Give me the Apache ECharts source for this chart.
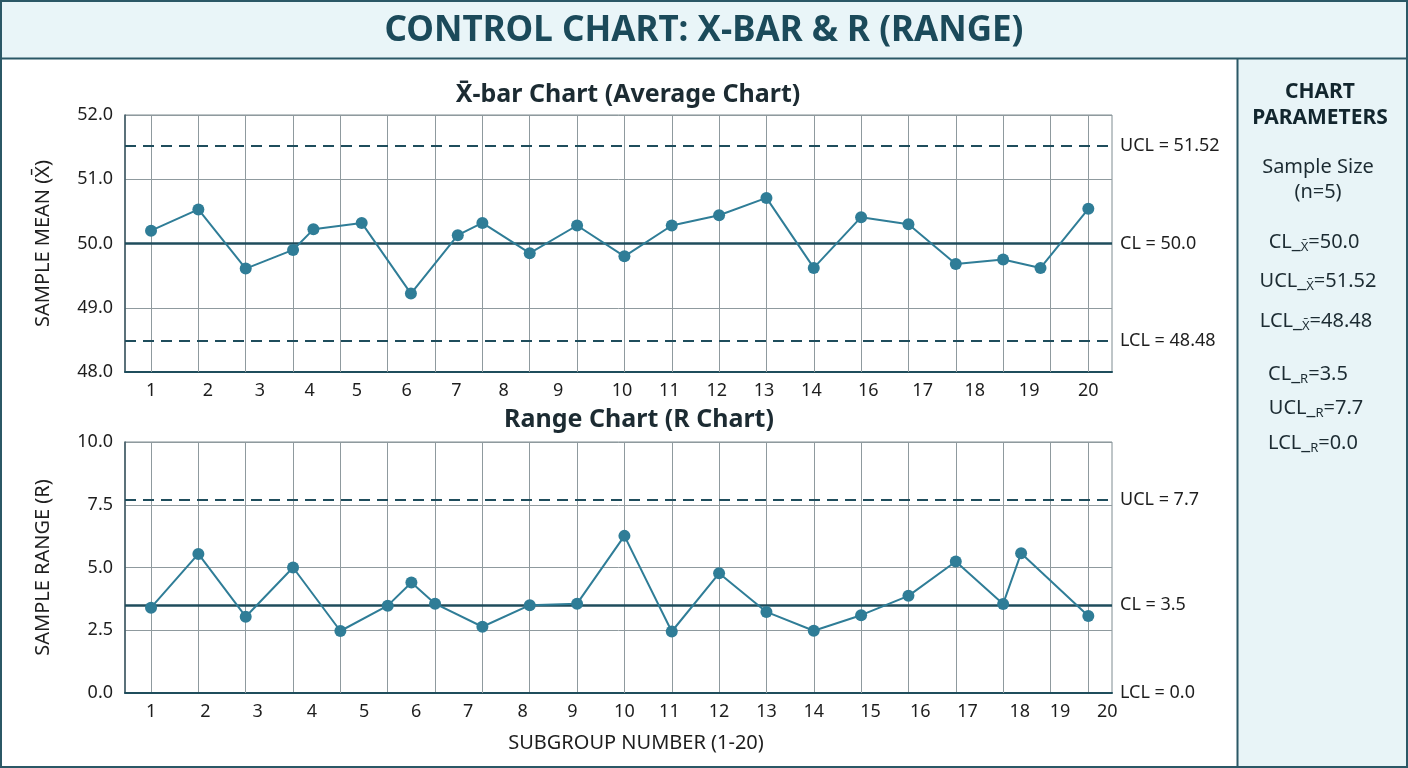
<!DOCTYPE html>
<html>
<head>
<meta charset="utf-8">
<title>Control Chart: X-bar &amp; R</title>
<script src="https://cdn.jsdelivr.net/npm/echarts@6/dist/echarts.min.js"></script>
<style>
  html, body { margin: 0; padding: 0; background: #fff; }
  #main { width: 1408px; height: 768px; }
</style>
</head>
<body>
<div id="main"></div>
<script>
// ---- data ----
// x positions are in grid columns (column line n = subgroup n)
var xbarPos  = [1, 2, 3, 4, 4.43, 5.45, 6.49, 7.48, 8, 9, 10, 11, 12, 13, 14, 15, 16, 17, 18, 19, 19.79, 20.8];
var xbarMean = [50.20, 50.53, 49.61, 49.90, 50.22, 50.32, 49.22, 50.13, 50.32, 49.85, 50.28,
                49.80, 50.28, 50.44, 50.71, 49.62, 50.41, 50.30, 49.68, 49.75, 49.62, 50.54];

var rPos   = [1, 2, 3, 4, 5, 6, 6.5, 7, 8, 9, 10, 11, 12, 13, 14, 15, 16, 17, 18, 19, 19.38, 20.8];
var rRange = [3.40, 5.54, 3.04, 5.00, 2.47, 3.48, 4.40, 3.56, 2.64, 3.50, 3.56,
              6.26, 2.45, 4.77, 3.23, 2.48, 3.10, 3.87, 5.24, 3.55, 5.57, 3.07];

var xbarLimits = [51.52, 50.0, 48.48];
var xbarLimitText = ['UCL = 51.52', 'CL = 50.0', 'LCL = 48.48'];
var rLimits = [7.7, 3.5, 0.0];
var rLimitText = ['UCL = 7.7', 'CL = 3.5', 'LCL = 0.0'];

// tick labels as they sit under each chart
var xbarTickPos  = [1, 2.2, 3.3, 4.35, 5.35, 6.4, 7.45, 8.45, 9.6, 10.95, 11.95, 12.95, 13.95, 14.95, 16.15, 17.3, 18.4, 19.55, 20.8];
var xbarTickText = ['1', '2', '3', '4', '5', '6', '7', '8', '9', '10', '11', '12', '13', '14', '16', '17', '18', '19', '20'];
var rTickPos  = [1, 2.15, 3.25, 4.4, 5.5, 6.6, 7.7, 8.85, 9.9, 11, 11.95, 13, 14, 15, 16.2, 17.25, 18.25, 19.35, 20.2, 21.2];
var rTickText = ['1', '2', '3', '4', '5', '6', '7', '8', '9', '10', '11', '12', '13', '14', '15', '16', '17', '18', '19', '20'];

var colLines = [1, 2, 3, 4, 5, 6, 7, 8, 9, 10, 11, 12, 13, 14, 15, 16, 17, 18, 19, 20, 20.8];

// ---- styling ----
var FONT = '"Noto Sans", "DejaVu Sans", sans-serif';
var DARK = '#1f4d5c';
var LINE = '#2f7d97';
var TXT = '#1e1e1e';
var X_MIN = 0.45, X_MAX = 21.3;

function zip(xs, ys) {
  var out = [];
  for (var i = 0; i < xs.length; i++) out.push([xs[i], ys[i]]);
  return out;
}

function tickFmt(pos, txt) {
  return function (v) {
    for (var i = 0; i < pos.length; i++) {
      if (Math.abs(v - pos[i]) < 0.01) return txt[i];
    }
    return '';
  };
}

function mainX(gi) {
  return {
    type: 'value', gridIndex: gi, min: X_MIN, max: X_MAX, position: 'bottom',
    axisLine: { show: true, onZero: false, lineStyle: { color: DARK, width: 2 } },
    axisTick: { show: false }, axisLabel: { show: false }, splitLine: { show: false }
  };
}

function labelX(gi, pos, txt) {
  return {
    type: 'value', gridIndex: gi, min: X_MIN, max: X_MAX, interval: 0.05, position: 'bottom',
    axisLine: { show: false, onZero: false }, axisTick: { show: false }, splitLine: { show: false },
    axisLabel: { formatter: tickFmt(pos, txt), fontSize: 18, color: TXT, fontFamily: FONT, margin: 10 }
  };
}

function limitLines(vals, names) {
  return vals.map(function (v, i) {
    return {
      yAxis: v, name: names[i],
      lineStyle: { color: DARK, width: i === 1 ? 2.5 : 2.2, type: i === 1 ? 'solid' : [11, 7] }
    };
  });
}

function gridCols(xi, yi) {
  return {
    type: 'line', xAxisIndex: xi, yAxisIndex: yi, data: [], silent: true,
    markLine: {
      silent: true, symbol: 'none', z: 1, animation: false,
      label: { show: false },
      lineStyle: { color: '#8f9a9e', width: 1, type: 'solid' },
      data: colLines.map(function (v) { return { xAxis: v }; })
    }
  };
}

function dataSeries(xi, yi, pts, vals, names) {
  return {
    type: 'line', xAxisIndex: xi, yAxisIndex: yi, data: pts, z: 4,
    symbol: 'circle', symbolSize: 12, animation: false,
    lineStyle: { color: LINE, width: 2 },
    itemStyle: { color: LINE },
    markLine: {
      silent: true, symbol: 'none', z: 3, animation: false,
      label: {
        position: 'end', distance: 8, color: TXT, fontSize: 18, fontFamily: FONT,
        formatter: function (p) { return p.name; }
      },
      data: limitLines(vals, names)
    }
  };
}

function txt(x, y, s, size, weight, extra, color) {
  var el = {
    type: 'text', x: x, y: y, z: 10,
    style: {
      text: s, fill: color || '#1c2b32', align: 'center', verticalAlign: 'middle',
      font: (weight || 'normal') + ' ' + size + 'px ' + FONT
    }
  };
  if (extra) el.style.rich = extra;
  return el;
}

var subRich = {
  m: { fontSize: 20, fontFamily: FONT, fill: '#1c2b32' },
  s: { fontSize: 13, fontFamily: FONT, fill: '#1c2b32', verticalAlign: 'bottom', padding: [10, 0, 0, 0] }
};

var chart = echarts.init(document.getElementById('main'));

chart.setOption({
  animation: false,
  backgroundColor: '#ffffff',
  textStyle: { fontFamily: FONT },
  grid: [
    { left: 125, width: 987, top: 115, height: 257, show: true, borderColor: '#7f8c91', borderWidth: 1, backgroundColor: 'transparent' },
    { left: 125, width: 987, top: 442, height: 251, show: true, borderColor: '#7f8c91', borderWidth: 1, backgroundColor: 'transparent' }
  ],
  xAxis: [
    mainX(0),
    labelX(0, xbarTickPos, xbarTickText),
    mainX(1),
    labelX(1, rTickPos, rTickText)
  ],
  yAxis: [
    {
      type: 'value', gridIndex: 0, min: 48, max: 52, interval: 1,
      name: 'SAMPLE MEAN (X\u0304)', nameLocation: 'middle', nameGap: 72,
      nameTextStyle: { fontSize: 20, color: TXT, fontFamily: FONT },
      axisLine: { show: true, lineStyle: { color: '#3a5561', width: 1.5 } },
      axisTick: { show: false },
      axisLabel: { fontSize: 18, color: TXT, fontFamily: FONT, margin: 12, formatter: function (v) { return v.toFixed(1); } },
      splitLine: { lineStyle: { color: '#8f9a9e', width: 1 } }
    },
    {
      type: 'value', gridIndex: 1, min: 0, max: 10, interval: 2.5,
      name: 'SAMPLE RANGE (R)', nameLocation: 'middle', nameGap: 72,
      nameTextStyle: { fontSize: 20, color: TXT, fontFamily: FONT },
      axisLine: { show: true, lineStyle: { color: '#3a5561', width: 1.5 } },
      axisTick: { show: false },
      axisLabel: { fontSize: 18, color: TXT, fontFamily: FONT, margin: 12, formatter: function (v) { return v.toFixed(1); } },
      splitLine: { lineStyle: { color: '#8f9a9e', width: 1 } }
    }
  ],
  series: [
    gridCols(0, 0),
    dataSeries(0, 0, zip(xbarPos, xbarMean), xbarLimits, xbarLimitText),
    gridCols(2, 1),
    dataSeries(2, 1, zip(rPos, rRange), rLimits, rLimitText)
  ],
  graphic: [
    // header band and right parameter panel
    { type: 'rect', z: -10, shape: { x: 0, y: 0, width: 1408, height: 59 }, style: { fill: '#e9f5f8' } },
    { type: 'rect', z: -10, shape: { x: 1237, y: 59, width: 171, height: 709 }, style: { fill: '#e8f4f7' } },
    { type: 'line', z: -9, shape: { x1: 0, y1: 58.5, x2: 1408, y2: 58.5 }, style: { stroke: '#2b5866', lineWidth: 2 } },
    { type: 'line', z: -9, shape: { x1: 1237.5, y1: 58, x2: 1237.5, y2: 768 }, style: { stroke: '#2b5866', lineWidth: 2 } },
    { type: 'rect', z: -9, shape: { x: 1, y: 1, width: 1406, height: 766 }, style: { fill: 'none', stroke: '#2b5866', lineWidth: 2 } },

    txt(704, 31, 'CONTROL CHART: X-BAR & R (RANGE)', 35, 'bold', null, '#1b4a5a'),
    txt(628, 95, 'X\u0304-bar Chart (Average Chart)', 25, 'bold'),
    txt(639, 420, 'Range Chart (R Chart)', 25, 'bold'),
    txt(636, 743, 'SUBGROUP NUMBER (1-20)', 20, 'normal', null, TXT),

    txt(1320, 92, 'CHART', 21, 'bold', null, '#12262e'),
    txt(1320, 118, 'PARAMETERS', 21, 'bold', null, '#12262e'),
    txt(1318, 167, 'Sample Size', 20, 'normal'),
    txt(1318, 192, '(n=5)', 20, 'normal'),
    txt(1314, 242, '{m|CL_}{s|X\u0304}{m|=50.0}', 20, 'normal', subRich),
    txt(1318, 281, '{m|UCL_}{s|X\u0304}{m|=51.52}', 20, 'normal', subRich),
    txt(1316, 321, '{m|LCL_}{s|X\u0304}{m|=48.48}', 20, 'normal', subRich),
    txt(1308, 374, '{m|CL_}{s|R}{m|=3.5}', 20, 'normal', subRich),
    txt(1316, 408, '{m|UCL_}{s|R}{m|=7.7}', 20, 'normal', subRich),
    txt(1313, 443, '{m|LCL_}{s|R}{m|=0.0}', 20, 'normal', subRich)
  ]
});
</script>
</body>
</html>
